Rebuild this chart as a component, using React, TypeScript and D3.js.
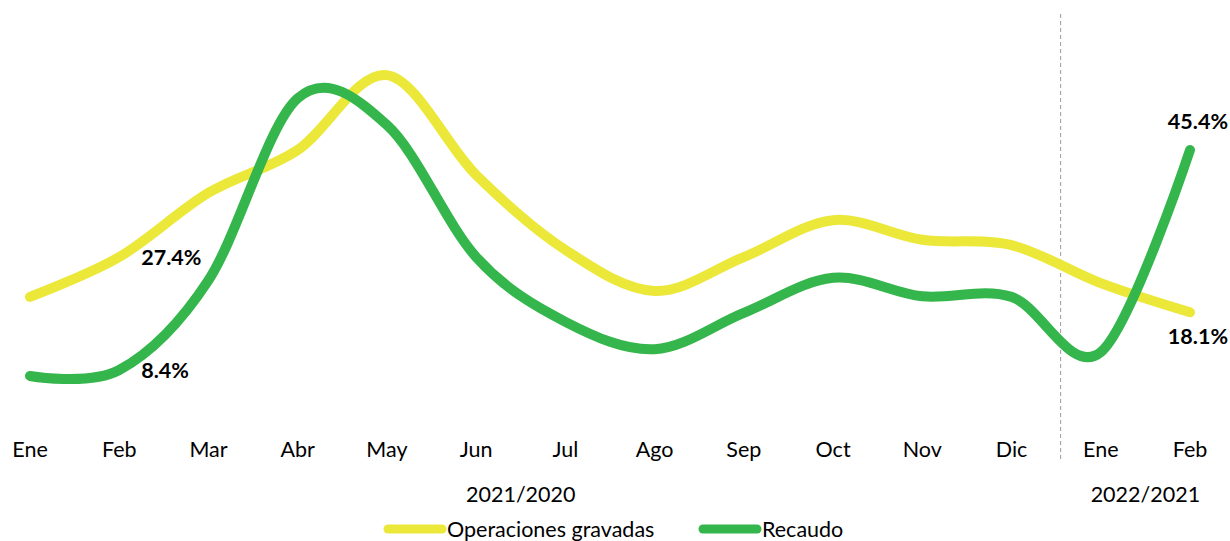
import React from "react";
import * as d3 from "d3";

const categories = ["Ene", "Feb", "Mar", "Abr", "May", "Jun", "Jul", "Ago", "Sep", "Oct", "Nov", "Dic", "Ene", "Feb"];
const operaciones = [20.7, 27.4, 38.2, 45.4, 58.0, 41.2, 28.6, 21.7, 27.4, 33.6, 30.3, 29.4, 23.0, 18.1];
const recaudo = [7.4, 8.4, 23.5, 54.1, 49.6, 27.4, 16.5, 11.9, 18.0, 23.9, 20.8, 20.7, 11.4, 45.4];
const periods = [
  { label: "2021/2020", from: 0, to: 11 },
  { label: "2022/2021", from: 12, to: 13 },
];
const seriesNames = ["Operaciones gravadas", "Recaudo"];
const colors = ["#EBE83A", "#34B64C"];

const W = 1230;
const H = 541;
const FONT = "Lato, 'Open Sans', sans-serif";
const FS = 21.5;

export default function App() {
  const x = d3.scalePoint<number>().domain(d3.range(categories.length)).range([30, 1190]);
  const y = d3.scaleLinear().domain([8.4, 45.4]).range([370, 150]);
  const line = d3
    .line<number>()
    .x((_, i) => x(i) as number)
    .y((d) => y(d))
    .curve(d3.curveCardinal.tension(0));

  const step = x.step();
  const sepX = (x(11) as number) + step * 0.55;
  const last = categories.length - 1;

  const labelStyle: React.CSSProperties = { fontFamily: FONT, fontWeight: 700, fontSize: FS, fill: "#000" };
  const textStyle: React.CSSProperties = { fontFamily: FONT, fontSize: FS, fill: "#000" };

  return (
    <svg width={W} height={H} style={{ position: "absolute", left: 0, top: 0, background: "#fff" }}>
      <line x1={sepX} x2={sepX} y1={14} y2={462} stroke="#9a9a9a" strokeWidth={1} strokeDasharray="4,3" />
      <path d={line(operaciones) || ""} fill="none" stroke={colors[0]} strokeWidth={10} strokeLinecap="round" strokeLinejoin="round" />
      <path d={line(recaudo) || ""} fill="none" stroke={colors[1]} strokeWidth={10} strokeLinecap="round" strokeLinejoin="round" />

      <text x={(x(1) as number) + 22} y={y(operaciones[1])} dy="0.35em" style={labelStyle}>
        {operaciones[1].toFixed(1)}%
      </text>
      <text x={(x(1) as number) + 22} y={y(recaudo[1])} dy="0.35em" style={labelStyle}>
        {recaudo[1].toFixed(1)}%
      </text>
      <text x={W - 2} y={y(recaudo[last]) - 29} dy="0.35em" textAnchor="end" style={labelStyle}>
        {recaudo[last].toFixed(1)}%
      </text>
      <text x={W - 2} y={y(operaciones[last]) + 24} dy="0.35em" textAnchor="end" style={labelStyle}>
        {operaciones[last].toFixed(1)}%
      </text>

      {categories.map((c, i) => (
        <text key={i} x={x(i) as number} y={449} dy="0.35em" textAnchor="middle" style={textStyle}>
          {c}
        </text>
      ))}
      {periods.map((p) => (
        <text
          key={p.label}
          x={((x(p.from) as number) + (x(p.to) as number)) / 2}
          y={494}
          dy="0.35em"
          textAnchor="middle"
          style={textStyle}
        >
          {p.label}
        </text>
      ))}

      {seriesNames.map((s, i) => {
        const lx = i === 0 ? 385 : 700;
        return (
          <g key={s}>
            <line x1={lx + 3} x2={lx + 57} y1={529} y2={529} stroke={colors[i]} strokeWidth={9} strokeLinecap="round" />
            <text x={lx + 62} y={529} dy="0.35em" style={textStyle}>
              {s}
            </text>
          </g>
        );
      })}
    </svg>
  );
}
